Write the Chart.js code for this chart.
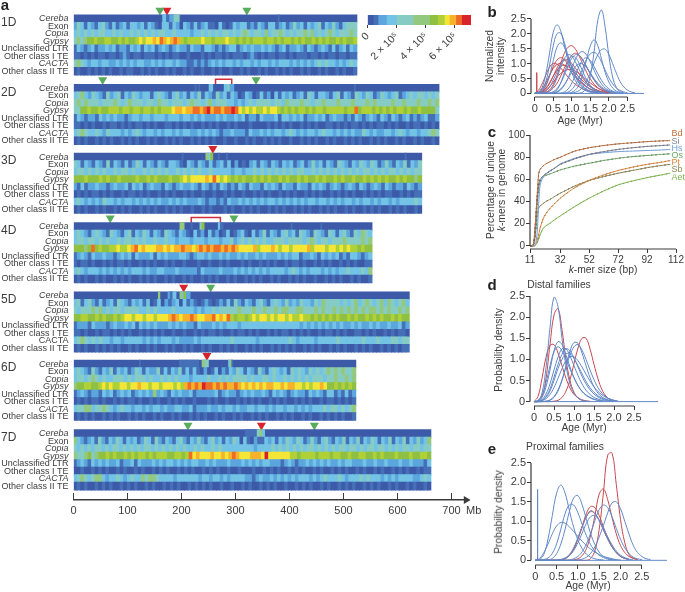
<!DOCTYPE html>
<html>
<head>
<meta charset="utf-8">
<title>TE landscape</title>
<script src="https://cdn.jsdelivr.net/npm/chart.js@4"></script>
<style>
  body { margin: 0; background: #fff; width: 685px; height: 592px; overflow: hidden; position: relative; font-family: "Liberation Sans", sans-serif; }
  canvas { position: absolute; filter: blur(0.35px); }
  .txt { position: absolute; white-space: nowrap; color: #3c3c3c; line-height: 1; }
</style>
</head>
<body>
<script>
// ---- panel a: heat rows, one character per bin, level 0-b into heatColors ----
const heatColors = ['#3d5aa9','#4570b8','#5ba6dd','#72c3e6','#86cbc4','#93c97f','#8fc042','#b0d038','#f3e636','#f6b22a','#ee6c25','#d8232a'];
const colorbarEdges = [0,0.43e5,0.77e5,1.34e5,2.02e5,3.16e5,4.3e5,4.86e5,5.32e5,5.66e5,6.1e5,6.5e5,7.1e5];
const colorbarTicks = [0,2e5,4e5,6e5];
const colorbarLabels = ['0','2 × 10⁵','4 × 10⁵','6 × 10⁵'];

const rowNames = ['Cereba','Exon','Copia','Gypsy','Unclassified LTR','Other class I TE','CACTA','Other class II TE'];
const chrNames = ['1D','2D','3D','4D','5D','6D','7D'];
const chrLengths = [525,677,645,553,622,523,662];
const chrOffsets = [0,9.27,18.44,27.7,36.93,46.04,55.33];

// Cereba rows are nearly empty, so only the spots are listed: [start Mb, end Mb, level]
const cerebaSpots = [
  [[165,172,3],[172,178,1],[178,186,2],[186,196,4],[379,381,1]],
  [[225,227,1],[232,234,1],[251,258,3],[279,286,3],[286,290,4],[290,297,2],[520,522,1]],
  [[201,203,1],[245,250,5],[250,254,4],[254,258,6],[268,270,1],[283,285,1],[614,616,1]],
  [[197,205,5],[218,220,1],[234,238,4],[238,242,6],[268,272,3],[272,277,1],[403,405,1],[458,460,1]],
  [[157,160,5],[175,179,2],[179,184,1],[184,190,3],[197,201,5],[201,204,3],[204,208,6],[209,216,2]],
  [[122,124,1],[196,232,1],[238,244,5],[244,250,4],[287,290,3],[290,293,5],[293,295,1]],
  [[318,340,1],[340,345,4],[345,350,5],[350,354,3]]
];

const rows1D = [
  '24313213421312313323132103313203213123110310132331213213312312423132341324213444',
  '34343434433434334343434344334333323343434344343454344353445434344545343454344454',
  '4545667667766767667878898a989a9767777877677787767676777677676776767667676766767667',
  '13212312232312213231323123212322132213321212331232322323212312232132123213123132',
  '11010101101101210110111010101100100010101101011101210101101101011101101011011011',
  '45432332332232323233223232332322112121232323323233232332323332323232343433232343',
  '01001010101001011001010100101001010010010100100101001010010101001010010100101001'
];
const rows2D = [
  '3453243214234132432331343213423132413214231320132013120313231231431332134132143243124323412343443434',
  '4545444344454345444344354434443454434534443323234344443443544454434454445444544454544445445444544545',
  '4466766766777677677677676777899899aa9ab9aa9aaba878787787887676767767677677777677a67776767676776766766664',
  '1321221323232212332332333233323323232223232232312213222313323231223231232212132123213213212312123112',
  '1101010010110101011010100110101010010101001010001000010101010010101001101010110101011010100101101010',
  '3454334324333232343233232332323322323232122322213223232332343232332343323232322432322332343233233454',
  '0101001010100101010010100101010010101010010010010100101010010010101001010010101001010100101001010010'
];
const rows3D = [
  '43132132141321312431321321332103213213123130201023132132132312312423132143213243243124213241324',
  '34434343433434434334343434334343434334333332332334343434343434433434343434343434434343443434344',
  '66676667676676666766767666766787888898a87876767667676766767667676676766767667667676767667676656',
  '21312232212322313231232213212322321321213212132132213232132213221323212321232132123213212213212',
  '01010110101001011010100101010010100100100101001001010100101010010101001010101001010101100101011',
  '34323232433232332323232322323232223212212132232323232332323232323323323232332323323233232333343',
  '01010010100101010010101001010100100101000101001010100101010010101001010100101001010100101010010'
];
const rows4D = [
  '3432134321432134132431321432132103120312013012310312413213423143214321431342143543',
  '3443443434334344343433433433233323332333233423434343433444344443454344344454444545',
  '66656a67667787789a898889989899a9989a9a9aa9a9a98888978889878878888978887887878776766',
  '1232132232212323132223132322233212332322323223232232322232323312232132323121332123',
  '1011010010101101001010100101001000100100101000101001010100101101001010100101010011',
  '3432333232323232333232233222322222132222322232323232323333234323233323232334333435',
  '0101001010010101001010100101001010010101001010010101001010010101001001010100101001'
];
const rows5D = [
  '34134213123143213231301302123031210121012131421321342134324232433243544443434534543453543453',
  '43444545343443444433434333343333323233434444454445445445455445544454544545454545455454544545',
  '667766767667678878878878889a9899a98899a898a7677678788787887877877676767676676766767676676766',
  '12221322212322323132323222323232213222323233323333333333333333232323232323223232232322322312',
  '11010010110101010010101010010010010101101001011010100101011010101001011010100110101001010110',
  '34543434332332333332323233323222232333333334333333233333333432333323333343333334333433344344',
  '01010010101010010100101001010010100101001010100101010010101010010101001010100101010010101011'
];
const rows6D = [
  '343214213241323124313224131324131310201302132431321421343231434324343454545445',
  '344345434334443434443433434343332333343343434444343344343343434343444344544545',
  '56677667878778878898878878887879a9a9baa9a9a99a989898989988989988787889866767676',
  '123212213231232312323252321323223122222312322123232232132321232213232133121312',
  '010101101001010110100101001010100100010100100101010100101010010101001011010101',
  '344553445432343323323233232233223122232232332322332332323323323232333434434345',
  '010101001010100101010010100101001010100101001010010101001010100101001010101001'
];
const rows7D = [
  '53212314213243132312431421321342132421342313243031021132313243243124213421324132413243132413241324235',
  '43434344343443434343443434343434334343343433333333323333434343434344343434344344343443443434344344344',
  '54456456676766767677676777667767a89888988989a98889998b888888776777767776776676677667676667666766776',
  '1232132323223122313222323233232323322323222322232323233222123212232323232232332223223223222322322213',
  '0010010101001010010100101010010101001010100100100010010101001010100101001010100101001010010101001011',
  '3454345532334323433545543333233333323323323233332212322323232323332323433343233343433323232333322343',
  '0101001010100101010010100101010010101010010010010100101010010010101001010010101001010100101001010010'
];
const chrRows = [rows1D, rows2D, rows3D, rows4D, rows5D, rows6D, rows7D];

const italicRows = ['Cereba','Copia','Gypsy','CACTA'];
const plainCactaChr = 4;

// markers above the rows: [chromosome index, Mb]
const greenMarks = [[0,160],[0,321],[1,54],[1,338],[3,68],[3,297],[4,254],[6,212],[6,446]];
const redMarks = [[0,173],[2,258],[4,204],[5,247],[6,348]];
const brackets = [[1,263,293],[3,218,272]];
const mbTicks = [0,100,200,300,400,500,600,700];

// ---- panels b, d, e: density curves sampled every 0.1 Myr from age 0 ----
const ages = [0,0.1,0.2,0.3,0.4,0.5,0.6,0.7,0.8,0.9,1,1.1,1.2,1.3,1.4,1.5,1.6,1.7,1.8,1.9,2,2.1,2.2,2.3,2.4,2.5,2.6,2.7,2.8,2.9,3,3.1];
const ageTicks = [0,0.5,1,1.5,2,2.5];
const densityTicks = [0,0.5,1,1.5,2,2.5];
const baseAges = [0,3.2];
const baseValues = [0,0];

const bBlue = [
  [0,.05,.2,.65,1.35,2.05,2.3,2.1,1.6,1.1,.7,.42,.25,.14,.08,.04,.02],
  [0,.03,.12,.4,.95,1.6,2,2.02,1.7,1.25,.85,.55,.33,.2,.12,.07,.04,.02],
  [0,.02,.08,.25,.6,1.1,1.55,1.7,1.55,1.22,.88,.6,.38,.24,.14,.08,.05,.02],
  [0,0,0,0,0,0,0,0,0,0,0,0,.01,.05,.2,.6,1.4,2.45,2.8,2.2,1.25,.55,.2,.06,.02],
  [0,0,0,0,0,0,0,0,0,.01,.04,.12,.3,.65,1.15,1.6,1.8,1.6,1.15,.7,.38,.18,.08,.03,.01],
  [0,0,0,0,0,0,0,0,0,0,.01,.04,.1,.22,.42,.7,1.02,1.3,1.47,1.48,1.3,1,.68,.4,.22,.11,.05,.02],
  [0,0,0,0,0,.01,.04,.12,.28,.52,.85,1.15,1.35,1.4,1.28,1.05,.78,.52,.32,.18,.1,.05,.02],
  [0,0,0,0,0,0,0,0,.01,.05,.13,.3,.55,.85,1.15,1.33,1.38,1.28,1.05,.78,.52,.32,.18,.1,.05,.02],
  [0,0,0,0,.02,.06,.16,.35,.62,.93,1.18,1.3,1.28,1.12,.9,.66,.45,.28,.16,.09,.05,.02],
  [0,0,0,0,0,.03,.12,.35,.7,1.05,1.24,1.2,1,.72,.46,.27,.15,.08,.04,.02],
  [0,0,0,.02,.08,.24,.52,.88,1.17,1.3,1.25,1.05,.8,.56,.36,.22,.13,.07,.04,.02],
  [0,0,.02,.08,.22,.45,.72,.98,1.1,1.07,.92,.72,.52,.35,.22,.14,.08,.04,.02],
  [0,0,0,0,0,0,0,.01,.05,.15,.35,.62,.92,1.13,1.2,1.1,.9,.66,.44,.27,.15,.08,.04,.02],
  [0,0,0,0,0,.02,.06,.15,.3,.5,.72,.9,1,.98,.86,.68,.5,.34,.22,.13,.07,.04,.02]
];
const bRed = [
  [0,0,.01,.04,.12,.3,.6,1,1.35,1.55,1.6,1.48,1.25,.97,.7,.48,.31,.19,.11,.06,.03,.01],
  [0,0,.01,.03,.08,.18,.34,.58,.85,1.1,1.28,1.35,1.28,1.1,.88,.66,.46,.3,.18,.1,.06,.03,.01],
  [0,.02,.1,.28,.58,.9,1.12,1.2,1.13,.97,.78,.6,.44,.31,.21,.14,.09,.05,.03,.01],
  [0,.01,.05,.15,.33,.58,.85,1.05,1.14,1.12,1,.84,.66,.5,.36,.25,.16,.1,.06,.03,.01],
  [0,.1,.32,.62,.88,1,.98,.86,.7,.55,.41,.3,.22,.15,.1,.06,.04,.02,.01],
  [0,.04,.16,.36,.62,.84,.97,1,.94,.83,.69,.55,.42,.31,.22,.15,.1,.06,.04,.02,.01],
  [0,.01,.06,.18,.36,.58,.78,.91,.95,.9,.8,.67,.54,.42,.31,.22,.15,.1,.06,.04,.02],
  [0,0,.03,.1,.22,.38,.54,.67,.76,.8,.8,.74,.66,.56,.45,.35,.26,.18,.12,.07,.04,.02]
];
const bSpikeAges = [0.045,0.05,0.06];
const bSpikeValues = [0,0.7,0];

const dBlue = [
  [0,.02,.2,.8,1.75,2.47,2.25,1.5,.85,.42,.2,.09,.04,.02],
  [0,.02,.1,.35,.75,1.2,1.42,1.35,1.1,.82,.57,.38,.24,.15,.09,.05,.03,.01],
  [0,0,0,.01,.03,.1,.25,.5,.85,1.2,1.4,1.38,1.15,.85,.57,.35,.2,.11,.06,.03,.01],
  [0,0,0,.01,.04,.12,.28,.52,.82,1.1,1.3,1.35,1.22,1,.75,.52,.33,.2,.11,.06,.03,.01],
  [0,.01,.05,.18,.42,.75,1.05,1.25,1.25,1.08,.85,.62,.42,.27,.17,.1,.06,.03,.01],
  [0,0,.03,.12,.3,.58,.88,1.12,1.25,1.2,1.03,.82,.6,.42,.28,.18,.11,.06,.03,.01],
  [0,0,.02,.07,.17,.33,.55,.78,.97,1.06,1.06,.97,.82,.65,.49,.35,.24,.16,.1,.06,.03,.01],
  [0,0,.03,.1,.25,.5,.78,1,1.13,1.14,1.02,.85,.66,.48,.33,.22,.14,.08,.05,.02,.01],
  [0,.03,.15,.45,.85,1.18,1.3,1.2,1,.77,.56,.38,.25,.16,.1,.06,.03,.01]
];
const dRed = [
  [0,.01,.12,.55,1.35,2.05,2.2,1.7,1,.5,.22,.09,.03,.01],
  [0,.12,.55,1.05,1.33,1.35,1.15,.85,.55,.32,.17,.09,.04,.02,.01],
  [0,0,0,0,0,.01,.03,.1,.25,.52,.9,1.27,1.5,1.5,1.25,.88,.54,.28,.13,.05,.02]
];

const eBlue = [
  [0,.02,.15,.55,1.15,1.72,1.93,1.72,1.28,.85,.52,.3,.16,.08,.04,.02,.01],
  [0,0,0,.01,.05,.17,.42,.8,1.25,1.6,1.66,1.42,1.05,.68,.4,.21,.1,.05,.02,.01],
  [0,0,.02,.06,.18,.42,.8,1.2,1.42,1.42,1.22,.92,.63,.4,.24,.13,.07,.03,.01],
  [0,.05,.2,.42,.68,.88,.97,.95,.86,.74,.61,.49,.38,.29,.21,.15,.1,.07,.04,.02,.01],
  [0,0,0,0,0,.01,.02,.06,.15,.32,.58,.87,1.12,1.25,1.2,1.02,.78,.54,.34,.2,.1,.05,.02],
  [0,0,0,0,0,0,0,0,.01,.04,.1,.22,.42,.7,1.02,1.3,1.42,1.35,1.12,.82,.54,.32,.17,.08,.04,.02],
  [0,0,0,0,0,0,0,0,0,0,.01,.03,.08,.18,.35,.6,.9,1.22,1.47,1.5,1.32,1,.67,.38,.2,.1,.04,.02],
  [0,0,0,0,0,0,.02,.05,.12,.25,.45,.7,.95,1.12,1.15,1.03,.82,.6,.4,.24,.13,.07,.03,.01]
];
const eRed = [
  [0,0,0,0,0,0,0,0,0,0,0,0,0,.05,.25,.8,1.75,2.7,2.75,1.95,1.05,.45,.15,.05,.02],
  [0,0,0,0,0,0,0,0,0,.01,.04,.12,.3,.65,1.15,1.7,1.83,1.55,1.1,.68,.38,.2,.1,.05,.02],
  [0,0,0,0,0,0,.01,.04,.12,.28,.55,.87,1.2,1.38,1.35,1.15,.85,.58,.36,.2,.1,.05,.02],
  [0,0,0,0,0,0,0,.05,.13,.3,.55,.85,1.12,1.27,1.2,1.02,.78,.55,.35,.2,.1,.05,.02]
];
const eSpikeAges = [0.045,0.05,0.06];
const eSpikeValues = [0,1.82,0];

// ---- panel c ----
const kSizes = [11,13,14,15,16,17,18,20,22,25,28,32,42,52,62,72,82,92,102,108];
const kTicks = [11,32,52,72,92,112];
const kPercentTicks = [0,20,40,60,80,100];
const kNames = ['Bd','Si','Hs','Os','Pt','Sb','Aet'];
const kColors = ['#c0703f','#7f8296','#6f9ed8','#6ea867','#e08a3c','#8f8a55','#7fb550'];
const kValues = [
  [0,0,8,26,46,65,69,72,74,76,78,80,85.5,88.5,90.5,92,93,94,94.7,95],
  [0,0,6,24,44,55,60,63,65,67.5,70,73.5,78.5,82.5,85,87,88.5,89.7,90.5,91],
  [0,0,0,2,12,38,55,62,65,68,70,74,79,82.5,84,85,85.5,86,86.5,87],
  [0,0,4,18,38,52,58,62,63.5,65,66.5,68.5,72,74.5,77,79,80.5,81.5,82.5,83],
  [0,0,0,1,4,10,16,24,29,34,38,43,52.5,59,64,68,71,73.5,75.5,77],
  [0,0,3,14,28,34,36,38,40,42,44.5,47.5,54,59,62.5,65.5,68,70.5,72.5,73.5],
  [0,0,0,1,3,6,10,15.5,18,20.5,23.5,27,35.5,43,49.5,55,58.5,61.5,64,65.5]
];
const kDotColors = ['#2b2b2b','#2b2b2b','#dbe6f5','#2b2b2b','#3a3a3a','#2b2b2b','#5f8f3a'];
const kLabelY = [133,141,148,155,162,169,177];

Chart.defaults.font.family = '"Liberation Sans", Arial, sans-serif';
Chart.defaults.color = '#3c3c3c';

const axisColor = '#3a3a3a';
const blue = '#6088c8';
const red = '#c9484f';

function addText(html, x, y, size, opts) {
  opts = opts || {};
  const div = document.createElement('div');
  div.className = 'txt';
  div.innerHTML = html;
  div.style.left = x + 'px';
  div.style.top = y + 'px';
  div.style.fontSize = size + 'px';
  if (opts.color) div.style.color = opts.color;
  if (opts.bold) div.style.fontWeight = 'bold';
  const anchor = opts.left ? '0,-50%' : '-50%,-50%';
  div.style.transform = 'translate(' + anchor + ')' + (opts.rotate ? ' rotate(' + opts.rotate + 'deg)' : '');
  document.body.appendChild(div);
}

function addCanvas(left, top, width, height) {
  const canvas = document.createElement('canvas');
  canvas.width = width;
  canvas.height = height;
  canvas.style.left = left + 'px';
  canvas.style.top = top + 'px';
  document.body.appendChild(canvas);
  return canvas;
}

// axis lines run only between the first and the last tick, away from the plot
const detachedAxes = {
  id: 'detachedAxes',
  afterDraw(chart) {
    const { ctx, chartArea, scales } = chart;
    const xt = scales.x.ticks, yt = scales.y.ticks;
    ctx.save();
    ctx.strokeStyle = axisColor;
    ctx.lineWidth = 1.2;
    ctx.beginPath();
    ctx.moveTo(scales.x.getPixelForValue(xt[0].value), chartArea.bottom);
    ctx.lineTo(scales.x.getPixelForValue(xt[xt.length - 1].value), chartArea.bottom);
    ctx.moveTo(chartArea.left, scales.y.getPixelForValue(yt[0].value));
    ctx.lineTo(chartArea.left, scales.y.getPixelForValue(yt[yt.length - 1].value));
    ctx.stroke();
    ctx.restore();
  }
};

// one line plot; box is the plot area in page pixels
function linePlot(box, x, y, datasets, tickSize) {
  const canvas = addCanvas(box.left - 40, box.top - 8, box.right - box.left + 52, box.bottom - box.top + 34);
  return new Chart(canvas, {
    type: 'scatter',
    data: { datasets: datasets },
    options: {
      animation: false,
      responsive: false,
      layout: { padding: { top: 8, right: 12 } },
      plugins: { legend: { display: false }, tooltip: { enabled: false } },
      elements: { point: { radius: 0 } },
      scales: {
        x: {
          type: 'linear', min: x.min, max: x.max,
          afterBuildTicks: a => { a.ticks = x.ticks.map(v => ({ value: v })); },
          afterFit: a => { a.height = 26; },
          border: { display: false },
          grid: { drawOnChartArea: false, tickLength: 4, color: axisColor, tickWidth: 1 },
          ticks: { autoSkip: false, maxRotation: 0, padding: 1, font: { size: tickSize }, color: '#3c3c3c', callback: x.format }
        },
        y: {
          type: 'linear', min: y.min, max: y.max,
          afterBuildTicks: a => { a.ticks = y.ticks.map(v => ({ value: v })); },
          afterFit: a => { a.width = 40; },
          border: { display: false },
          grid: { drawOnChartArea: false, tickLength: 4, color: axisColor, tickWidth: 1 },
          ticks: { autoSkip: false, padding: 1, font: { size: tickSize }, color: '#3c3c3c', callback: y.format }
        }
      }
    },
    plugins: [detachedAxes]
  });
}

function curve(xs, ys, color, extra) {
  return Object.assign({
    data: ys.map((v, i) => ({ x: xs[i], y: v })),
    showLine: true, borderColor: color, borderWidth: 1, tension: 0.4, pointRadius: 0
  }, extra || {});
}

function densitySets(blues, reds, spike, spikeColor) {
  const sets = [curve(baseAges, baseValues, blue, { tension: 0 })];
  blues.forEach(v => sets.push(curve(ages, v, blue)));
  reds.forEach(v => sets.push(curve(ages, v, red)));
  if (spike) sets.push(curve(spike[0], spike[1], spikeColor, { tension: 0 }));
  return sets;
}

const ageFormat = v => v === 0 ? '0' : v.toFixed(1);

// ---- panel a ----
const cells = [];
chrRows.forEach((rows, c) => {
  const top = chrOffsets[c];
  cells.push({ x: [0, chrLengths[c]], y: top + 0.5, level: 0 });
  cerebaSpots[c].forEach(s => cells.push({ x: [s[0], s[1]], y: top + 0.5, level: s[2] }));
  rows.forEach((row, r) => {
    const w = chrLengths[c] / row.length;
    for (let i = 0; i < row.length; i++) {
      cells.push({ x: [i * w, Math.min((i + 1) * w + 0.5, chrLengths[c])], y: top + r + 1.5, level: parseInt(row[i], 16) });
    }
  });
});

const rowTicks = [];
chrOffsets.forEach(top => rowNames.forEach((n, r) => rowTicks.push(top + r + 0.5)));

const upTicks = {
  id: 'upTicks',
  afterDraw(chart) {
    const { ctx, chartArea, scales } = chart;
    ctx.save();
    ctx.strokeStyle = axisColor;
    ctx.lineWidth = 1;
    ctx.beginPath();
    scales.x.ticks.forEach(t => {
      const px = scales.x.getPixelForValue(t.value);
      ctx.moveTo(px, chartArea.bottom - 7);
      ctx.lineTo(px, chartArea.bottom);
    });
    ctx.stroke();
    ctx.restore();
  }
};

new Chart(addCanvas(0, -12, 480, 537), {
  data: {
    datasets: [
      {
        type: 'bar', data: cells, indexAxis: 'y', grouped: false, barThickness: 8, borderWidth: 0,
        backgroundColor: ctx => heatColors[ctx.raw.level]
      },
      {
        type: 'scatter', data: greenMarks.map(m => ({ x: m[1], y: chrOffsets[m[0]] - 0.62 })),
        pointStyle: 'triangle', rotation: 180, pointRadius: 5.2, backgroundColor: '#57ad5b', borderWidth: 0
      },
      {
        type: 'scatter', data: redMarks.map(m => ({ x: m[1], y: chrOffsets[m[0]] - 0.62 })),
        pointStyle: 'triangle', rotation: 180, pointRadius: 5.2, backgroundColor: '#d8232a', borderWidth: 0
      },
      ...brackets.map(b => ({
        type: 'scatter', showLine: true, borderColor: '#cf2f3a', borderWidth: 1.5, pointRadius: 0,
        data: [{ x: b[1], y: chrOffsets[b[0]] }, { x: b[1], y: chrOffsets[b[0]] - 0.7 }, { x: b[2], y: chrOffsets[b[0]] - 0.7 }, { x: b[2], y: chrOffsets[b[0]] }]
      })),
      {
        type: 'scatter', data: [{ x: 727, y: 64.67 }], clip: false,
        pointStyle: 'triangle', rotation: 90, pointRadius: 4.5, backgroundColor: axisColor, borderWidth: 0
      }
    ]
  },
  options: {
    animation: false,
    responsive: false,
    indexAxis: 'y',
    layout: { padding: { top: 12, right: 12.3 } },
    plugins: { legend: { display: false }, tooltip: { enabled: false } },
    scales: {
      x: {
        type: 'linear', min: 0, max: 730, position: 'bottom',
        afterBuildTicks: a => { a.ticks = mbTicks.map(v => ({ value: v })); },
        afterFit: a => { a.height = 25; },
        border: { display: true, color: axisColor, width: 1.5 },
        grid: { drawOnChartArea: false, drawTicks: false },
        ticks: { maxRotation: 0, autoSkip: false, padding: 4, font: { size: 11 }, color: '#3c3c3c' }
      },
      y: {
        type: 'linear', min: -2, max: 64.67, reverse: true, offset: false,
        afterBuildTicks: a => { a.ticks = rowTicks.map(v => ({ value: v })); },
        afterFit: a => { a.width = 73.5; },
        border: { display: false },
        grid: { display: false, drawTicks: false },
        ticks: {
          autoSkip: false, padding: 5, color: '#3c3c3c',
          callback: (v, i) => rowNames[i % rowNames.length],
          font: ctx => {
            const name = rowNames[ctx.index % rowNames.length];
            const chr = Math.floor(ctx.index / rowNames.length);
            const italic = italicRows.includes(name) && !(name === 'CACTA' && chr === plainCactaChr);
            return { size: 9, style: italic ? 'italic' : 'normal' };
          }
        }
      }
    }
  },
  plugins: [upTicks]
});

chrNames.forEach((n, i) => addText(n, 1, 22 + 7.5 * chrOffsets[i], 12, { left: true }));
addText('Mb', 466, 510, 11, { left: true });
addText('a', 5, 4, 15, { bold: true, color: '#222' });

// ---- colour scale ----
const legendCells = heatColors.map((c, i) => ({ x: [colorbarEdges[i], colorbarEdges[i + 1]], y: 0, color: c }));
new Chart(addCanvas(330, 10, 150, 60), {
  type: 'bar',
  data: { datasets: [{ data: legendCells, indexAxis: 'y', grouped: false, barThickness: 10, borderWidth: 0, backgroundColor: ctx => ctx.raw.color }] },
  options: {
    animation: false,
    responsive: false,
    indexAxis: 'y',
    layout: { padding: { top: 5, right: 9 } },
    plugins: { legend: { display: false }, tooltip: { enabled: false } },
    scales: {
      x: {
        type: 'linear', min: 0, max: 7.1e5,
        afterBuildTicks: a => { a.ticks = colorbarTicks.map(v => ({ value: v })); },
        afterFit: a => { a.height = 45; },
        border: { display: false },
        grid: { drawOnChartArea: false, tickLength: 3, color: axisColor },
        ticks: {
          autoSkip: false, minRotation: 45, maxRotation: 45, padding: 2, font: { size: 10.5 }, color: '#3c3c3c',
          callback: (v, i) => colorbarLabels[i]
        }
      },
      y: {
        type: 'linear', min: -0.5, max: 0.5, offset: false,
        afterFit: a => { a.width = 37.5; },
        border: { display: false },
        grid: { display: false },
        ticks: { display: false }
      }
    }
  }
});

// ---- panel b ----
linePlot({ left: 530.6, right: 644.2, top: 4.3, bottom: 97.3 },
  { min: -0.1, max: 2.945, ticks: ageTicks, format: ageFormat },
  { min: -0.12, max: 3, ticks: densityTicks, format: ageFormat },
  densitySets(bBlue, bRed, [bSpikeAges, bSpikeValues], red), 11);
addText('b', 492, 11, 15, { bold: true, color: '#222' });
addText('Normalized', 490, 55.5, 10.3, { rotate: -90 });
addText('intensity', 500.7, 55.5, 10.3, { rotate: -90 });
addText('Age (Myr)', 580, 120.7, 10.3);

// ---- panel c ----
const kSets = [];
kValues.forEach((v, i) => {
  kSets.push(curve(kSizes, v, kColors[i], { tension: 0.2 }));
  kSets.push(curve(kSizes, v, kDotColors[i], { tension: 0.2, borderDash: [1.5, 2.5], borderWidth: 1 }));
});
linePlot({ left: 529.6, right: 676, top: 135, bottom: 249.5 },
  { min: 11, max: 112, ticks: kTicks, format: v => String(v) },
  { min: -2.9, max: 100, ticks: kPercentTicks, format: v => String(v) },
  kSets, 10);
kNames.forEach((n, i) => addText(n, 671.5, kLabelY[i], 9, { left: true, color: kColors[i] }));
addText('c', 492, 131, 15, { bold: true, color: '#222' });
addText('Percentage of unique', 490.7, 190, 10.3, { rotate: -90 });
addText('<i>k</i>-mers in genome', 502, 190, 10.3, { rotate: -90 });
addText('<i>k</i>-mer size (bp)', 603, 270, 10.3);

// ---- panel d ----
linePlot({ left: 530, right: 658, top: 275, bottom: 406.7 },
  { min: -0.1, max: 3.1, ticks: ageTicks, format: ageFormat },
  { min: -0.104, max: 3, ticks: densityTicks, format: ageFormat },
  densitySets(dBlue, dRed), 11);
addText('d', 492, 284, 15, { bold: true, color: '#222' });
addText('Distal families', 559, 285, 10.3);
addText('Probability density', 499.3, 350, 10.3, { rotate: -90 });
addText('Age (Myr)', 584, 428, 10.3);

// ---- panel e ----
linePlot({ left: 530.7, right: 666.7, top: 443, bottom: 565 },
  { min: -0.1, max: 3.09, ticks: ageTicks, format: ageFormat },
  { min: -0.12, max: 3.01, ticks: densityTicks, format: ageFormat },
  densitySets(eBlue, eRed, [eSpikeAges, eSpikeValues], blue), 11);
addText('e', 492, 448, 15, { bold: true, color: '#222' });
addText('Proximal families', 565, 447, 10.3);
addText('Probability density', 499.3, 511.7, 10.3, { rotate: -90 });
addText('Age (Myr)', 588, 586, 10.3);
</script>
</body>
</html>
